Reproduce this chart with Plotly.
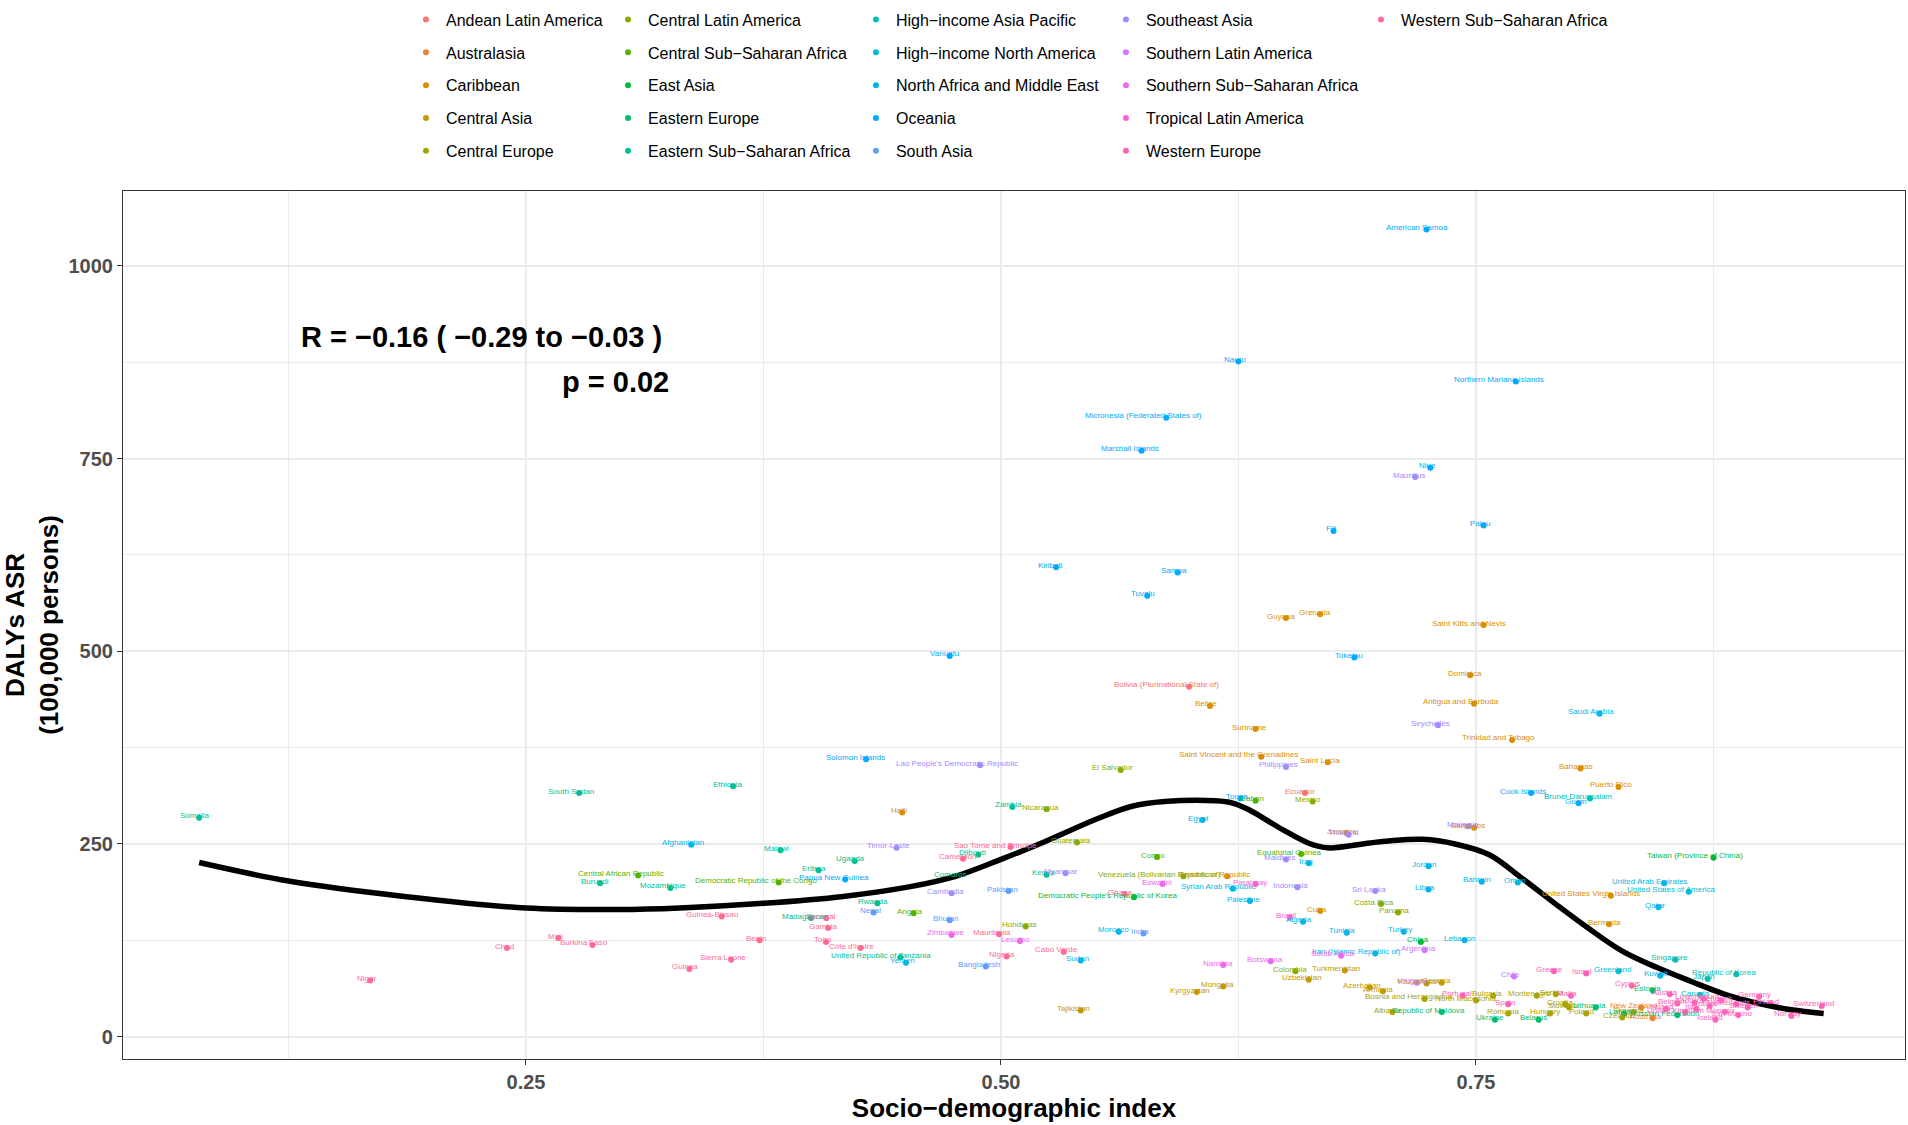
import math
import plotly.graph_objects as go

# GBD regions, in legend order (5 per column)
regions = [
    "Andean Latin America", "Australasia", "Caribbean", "Central Asia", "Central Europe",
    "Central Latin America", "Central Sub−Saharan Africa", "East Asia", "Eastern Europe",
    "Eastern Sub−Saharan Africa", "High−income Asia Pacific", "High−income North America",
    "North Africa and Middle East", "Oceania", "South Asia", "Southeast Asia",
    "Southern Latin America", "Southern Sub−Saharan Africa", "Tropical Latin America",
    "Western Europe", "Western Sub−Saharan Africa",
]

# region index of each country (into regions)
country_region = [
    0, 0,
    1, 1,
    2, 2, 2, 2, 2, 2, 2, 2, 2, 2, 2, 2, 2, 2, 2, 2, 2, 2, 2,
    3, 3, 3, 3, 3, 3, 3, 3, 3,
    4, 4, 4, 4, 4, 4, 4, 4, 4, 4, 4, 4, 4,
    5, 5, 5, 5, 5, 5, 5, 5, 5,
    6, 6, 6, 6, 6, 6,
    7, 7, 7,
    8, 8, 8, 8, 8, 8, 8,
    9, 9, 9, 9, 9, 9, 9, 9, 9, 9, 9, 9, 9, 9, 9,
    10, 10, 10, 10,
    11, 11, 11,
    12, 12, 12, 12, 12, 12, 12, 12, 12, 12, 12, 12, 12, 12, 12, 12, 12, 12, 12, 12, 12,
    13, 13, 13, 13, 13, 13, 13, 13, 13, 13, 13, 13, 13, 13, 13, 13, 13, 13,
    14, 14, 14, 14, 14,
    15, 15, 15, 15, 15, 15, 15, 15, 15, 15, 15, 15,
    16, 16, 16,
    17, 17, 17, 17, 17, 17,
    18, 18,
    19, 19, 19, 19, 19, 19, 19, 19, 19, 19, 19, 19, 19, 19, 19, 19, 19, 19, 19, 19, 19, 19, 19, 19,
    20, 20, 20, 20, 20, 20, 20, 20, 20, 20, 20, 20, 20, 20, 20, 20, 20, 20,
]

countries = [
    "Bolivia (Plurinational State of)", "Ecuador",
    "New Zealand", "Australia",
    "Haiti", "Guyana", "Grenada", "Saint Kitts and Nevis", "Dominica", "Belize",
    "Antigua and Barbuda", "Suriname", "Trinidad and Tobago", "Saint Vincent and the Grenadines",
    "Saint Lucia", "Bahamas", "Puerto Rico", "Jamaica", "Barbados", "Dominican Republic", "Cuba",
    "United States Virgin Islands", "Bermuda",
    "Tajikistan", "Kyrgyzstan", "Mongolia", "Uzbekistan", "Turkmenistan", "Azerbaijan",
    "Armenia", "Kazakhstan", "Georgia",
    "Bosnia and Herzegovina", "North Macedonia", "Albania", "Bulgaria", "Romania", "Montenegro",
    "Serbia", "Croatia", "Hungary", "Slovakia", "Poland", "Czechia", "Slovenia",
    "Honduras", "Nicaragua", "Guatemala", "El Salvador", "Venezuela (Bolivarian Republic of)",
    "Colombia", "Mexico", "Costa Rica", "Panama",
    "Central African Republic", "Democratic Republic of the Congo", "Angola", "Congo", "Gabon",
    "Equatorial Guinea",
    "Democratic People's Republic of Korea", "China", "Taiwan (Province of China)",
    "Republic of Moldova", "Ukraine", "Belarus", "Lithuania", "Latvia", "Estonia",
    "Russian Federation",
    "Somalia", "South Sudan", "Burundi", "Mozambique", "Ethiopia", "Malawi", "Madagascar",
    "Eritrea", "Uganda", "Rwanda", "United Republic of Tanzania", "Comoros", "Djibouti",
    "Zambia", "Kenya",
    "Brunei Darussalam", "Singapore", "Japan", "Republic of Korea",
    "Greenland", "United States of America", "Canada",
    "Afghanistan", "Yemen", "Sudan", "Morocco", "Egypt", "Syrian Arab Republic", "Palestine",
    "Algeria", "Iraq", "Tunisia", "Iran (Islamic Republic of)", "Turkey", "Jordan", "Libya",
    "Lebanon", "Bahrain", "Oman", "Saudi Arabia", "Qatar", "Kuwait", "United Arab Emirates",
    "Papua New Guinea", "Solomon Islands", "Vanuatu", "Kiribati", "Marshall Islands", "Tuvalu",
    "Micronesia (Federated States of)", "Samoa", "Nauru", "Tonga", "Fiji", "Tokelau",
    "American Samoa", "Niue", "Palau", "Northern Mariana Islands", "Cook Islands", "Guam",
    "Nepal", "Bhutan", "Bangladesh", "Pakistan", "India",
    "Timor-Leste", "Cambodia", "Lao People's Democratic Republic", "Myanmar", "Philippines",
    "Maldives", "Indonesia", "Thailand", "Sri Lanka", "Mauritius", "Seychelles", "Malaysia",
    "Uruguay", "Argentina", "Chile",
    "Zimbabwe", "Lesotho", "Eswatini", "Namibia", "Botswana", "South Africa",
    "Paraguay", "Brazil",
    "Portugal", "Spain", "Greece", "Malta", "Israel", "Cyprus", "Ireland", "Austria", "Belgium",
    "United Kingdom", "Andorra", "Italy", "Luxembourg", "France", "Iceland", "Denmark", "Monaco",
    "Netherlands", "San Marino", "Sweden", "Germany", "Finland", "Norway", "Switzerland",
    "Niger", "Chad", "Mali", "Burkina Faso", "Guinea", "Guinea-Bissau", "Sierra Leone", "Benin",
    "Senegal", "Gambia", "Togo", "Côte d'Ivoire", "Cameroon", "Mauritania", "Nigeria",
    "Sao Tome and Principe", "Cabo Verde", "Ghana",
]

sdi = [
    0.599, 0.660,
    0.837, 0.843,
    0.448, 0.650, 0.668, 0.754, 0.747, 0.610,
    0.749, 0.634, 0.769, 0.637,
    0.672, 0.805, 0.825, 0.682, 0.749, 0.619, 0.668,
    0.821, 0.820,
    0.542, 0.603, 0.617, 0.662, 0.681, 0.694,
    0.701, 0.724, 0.732,
    0.723, 0.750, 0.706, 0.759, 0.767, 0.782,
    0.792, 0.797, 0.789, 0.799, 0.808, 0.827, 0.833,
    0.513, 0.524, 0.540, 0.563, 0.596,
    0.655, 0.664, 0.700, 0.709,
    0.309, 0.383, 0.454, 0.582, 0.634,
    0.658,
    0.570, 0.721, 0.875,
    0.732, 0.760, 0.783, 0.813, 0.828, 0.843,
    0.856,
    0.078, 0.278, 0.289, 0.326, 0.359, 0.384, 0.400,
    0.404, 0.423, 0.435, 0.447, 0.476, 0.488,
    0.506, 0.524,
    0.810, 0.855, 0.872, 0.887,
    0.825, 0.862, 0.868,
    0.337, 0.450, 0.542, 0.562, 0.606, 0.622, 0.631,
    0.659, 0.662, 0.682, 0.697, 0.712, 0.725, 0.725,
    0.744, 0.753, 0.772, 0.815, 0.846, 0.847, 0.849,
    0.418, 0.429, 0.473, 0.529, 0.574, 0.577,
    0.587, 0.593, 0.625, 0.626, 0.675, 0.686,
    0.724, 0.726, 0.754, 0.771, 0.779, 0.804,
    0.433, 0.473, 0.492, 0.504, 0.575,
    0.445, 0.474, 0.489, 0.534, 0.650,
    0.650, 0.656, 0.683, 0.697, 0.718, 0.730, 0.746,
    0.719, 0.723, 0.770,
    0.474, 0.510, 0.585, 0.617, 0.642, 0.679,
    0.634, 0.652,
    0.743, 0.767, 0.791, 0.800, 0.808, 0.832, 0.850, 0.852, 0.856,
    0.860, 0.865, 0.866, 0.870, 0.873, 0.876, 0.879, 0.881,
    0.887, 0.888, 0.893, 0.899, 0.905, 0.916, 0.932,
    0.168, 0.240, 0.267, 0.285, 0.336, 0.353, 0.358, 0.373,
    0.408, 0.409, 0.408, 0.426, 0.480, 0.499, 0.503,
    0.505, 0.533, 0.565,
]

dalys = [
    454, 316,
    38, 24,
    291, 543, 548, 534, 469, 429,
    432, 399, 385, 363,
    356, 348, 324, 264, 271, 208, 163,
    183, 146,
    34, 58, 65, 74, 86, 64,
    59, 69, 70,
    49, 47, 32, 53, 30, 53,
    55, 42, 30, 38, 30, 25, 32,
    143, 295, 252, 346, 208,
    85, 305, 172, 161,
    209, 200, 160, 233, 306,
    237,
    181, 123, 232,
    32, 22, 22, 38, 30, 60,
    28,
    284, 316, 199, 193, 325, 242, 154,
    216, 228, 173, 103, 208, 236,
    298, 210,
    309, 100, 75, 81,
    85, 188, 54,
    249, 96, 99, 136, 281, 192, 176,
    149, 225, 135, 108, 136, 221, 191,
    125, 201, 200, 419, 168, 79, 199,
    204, 360, 494, 609, 760, 572,
    803, 602, 876, 309, 656, 492,
    1047, 738, 663, 850, 316, 303,
    161, 151, 91, 189, 134,
    245, 186, 352, 212, 350,
    230, 194, 262, 189, 726, 404, 273,
    70, 112, 78,
    132, 124, 198, 93, 98, 105,
    198, 155,
    53, 42, 85, 53, 82, 66, 36, 55, 43,
    32, 44, 36, 49, 40, 22, 47, 32,
    42, 28, 38, 52, 43, 27, 40,
    73, 115, 128, 119, 88, 156, 100, 125,
    154, 141, 123, 115, 231, 133, 104,
    246, 110, 185,
]

# loess fit
curve_sdi = [0.078, 0.125, 0.186, 0.250, 0.299, 0.331, 0.375, 0.417, 0.453, 0.476,
             0.500, 0.523, 0.551, 0.569, 0.586, 0.613, 0.622, 0.630, 0.648, 0.662,
             0.672, 0.693, 0.704, 0.722, 0.739, 0.757, 0.774, 0.792, 0.809, 0.827,
             0.845, 0.863, 0.881, 0.899, 0.916, 0.933]
curve_dalys = [226, 202, 182, 167, 165, 167, 173, 182, 195, 208,
               230, 253, 283, 299, 305, 306, 303, 295, 269, 251,
               245, 251, 254, 256, 250, 236, 206, 172, 141, 111,
               90, 72, 55, 43, 35, 30]

assert len(countries) == len(sdi) == len(dalys) == len(country_region)

FONT = "Liberation Sans, Arial, sans-serif"


# ggplot-style hue palette (hcl with c=100, l=65)
def hcl_hex(h, c=100.0, l=65.0):
    xn, yn, zn = 95.047, 100.0, 108.883
    un = 4 * xn / (xn + 15 * yn + 3 * zn)
    vn = 9 * yn / (xn + 15 * yn + 3 * zn)
    u = c * math.cos(math.radians(h))
    v = c * math.sin(math.radians(h))
    y = yn * ((l + 16) / 116) ** 3
    up = u / (13 * l) + un
    vp = v / (13 * l) + vn
    x = y * 9 * up / (4 * vp)
    z = y * (12 - 3 * up - 20 * vp) / (4 * vp)
    x, y, z = x / 100, y / 100, z / 100
    rgb = (3.240479 * x - 1.537150 * y - 0.498535 * z,
           -0.969256 * x + 1.875992 * y + 0.041556 * z,
           0.055648 * x - 0.204043 * y + 1.057311 * z)

    def gam(t):
        t = 1.055 * t ** (1 / 2.4) - 0.055 if t > 0.0031308 else 12.92 * t
        return min(max(t, 0.0), 1.0)
    return "#%02X%02X%02X" % tuple(int(round(255 * gam(t))) for t in rgb)


colours = [hcl_hex(15 + i * 360 / len(regions)) for i in range(len(regions))]

fig = go.Figure()

for r, name in enumerate(regions):
    idx = [i for i, g in enumerate(country_region) if g == r]
    col = r // 5
    fig.add_trace(go.Scatter(
        x=[sdi[i] for i in idx],
        y=[dalys[i] for i in idx],
        mode="markers",
        name=name,
        legendgroup=name,
        legend="legend" if col == 0 else "legend%d" % (col + 1),
        marker=dict(color=colours[r], size=6),
        hoverinfo="text",
        text=[countries[i] for i in idx],
    ))

# country labels, centred a bit to the left of each point like the original
for i, name in enumerate(countries):
    fig.add_annotation(
        x=sdi[i], y=dalys[i], text=name, showarrow=False,
        font=dict(size=8, color=colours[country_region[i]], family=FONT),
        xanchor="center", yanchor="middle",
        xshift=-0.71 * len(name), yshift=2,
    )

fig.add_trace(go.Scatter(
    x=curve_sdi, y=curve_dalys, mode="lines", line=dict(color="black", width=5.5, shape="spline"),
    showlegend=False, hoverinfo="skip",
))

fig.add_annotation(x=0.3226, y=907, xref="x", yref="y", text="<b>R = −0.16 ( −0.29 to −0.03 )</b>",
                   showarrow=False, xanchor="right", yanchor="middle",
                   font=dict(size=29, color="black", family=FONT))
fig.add_annotation(x=0.3265, y=849, xref="x", yref="y", text="<b>p = 0.02</b>",
                   showarrow=False, xanchor="right", yanchor="middle",
                   font=dict(size=29, color="black", family=FONT))

legend_x = [0.1588, 0.2722, 0.4113, 0.5516, 0.6947]
legend_style = dict(
    y=1.217, xanchor="left", yanchor="top", orientation="v",
    font=dict(size=16, color="black", family=FONT),
    bgcolor="rgba(0,0,0,0)", tracegroupgap=9, itemwidth=30, traceorder="grouped",
)
legends = {}
for c, lx in enumerate(legend_x):
    key = "legend" if c == 0 else "legend%d" % (c + 1)
    legends[key] = dict(x=lx, **legend_style)

grid = "#EBEBEB"
fig.update_layout(
    width=1908, height=1125,
    margin=dict(l=123, r=3, t=189, b=66),
    paper_bgcolor="white", plot_bgcolor="white",
    font=dict(family=FONT),
    showlegend=True,
    xaxis=dict(
        range=[0.0379, 0.9758], tickvals=[0.25, 0.5, 0.75], ticktext=["0.25", "0.50", "0.75"],
        showgrid=True, gridcolor=grid, gridwidth=1.6,
        minor=dict(tickvals=[0.125, 0.375, 0.625, 0.875], showgrid=True, gridcolor=grid, gridwidth=0.8),
        zeroline=False, showline=True, linecolor="#333333", linewidth=1.2, mirror=True,
        ticks="outside", ticklen=5, tickcolor="#333333",
        tickfont=dict(size=20, color="#4D4D4D", family=FONT, weight="bold"),
        title=dict(text="<b>Socio−demographic index</b>", font=dict(size=26, color="black", family=FONT),
                   standoff=6),
    ),
    yaxis=dict(
        range=[-28.9, 1097], tickvals=[0, 250, 500, 750, 1000],
        showgrid=True, gridcolor=grid, gridwidth=1.6,
        minor=dict(tickvals=[125, 375, 625, 875], showgrid=True, gridcolor=grid, gridwidth=0.8),
        zeroline=False, showline=True, linecolor="#333333", linewidth=1.2, mirror=True,
        ticks="outside", ticklen=5, tickcolor="#333333",
        tickfont=dict(size=20, color="#4D4D4D", family=FONT, weight="bold"),
        title=dict(text="<b>DALYs ASR<br>(100,000 persons)</b>", font=dict(size=26, color="black", family=FONT),
                   standoff=8),
    ),
    **legends,
)

fig.write_html("out.html", config={"displayModeBar": False},
               post_script="document.body.style.margin='0';")
